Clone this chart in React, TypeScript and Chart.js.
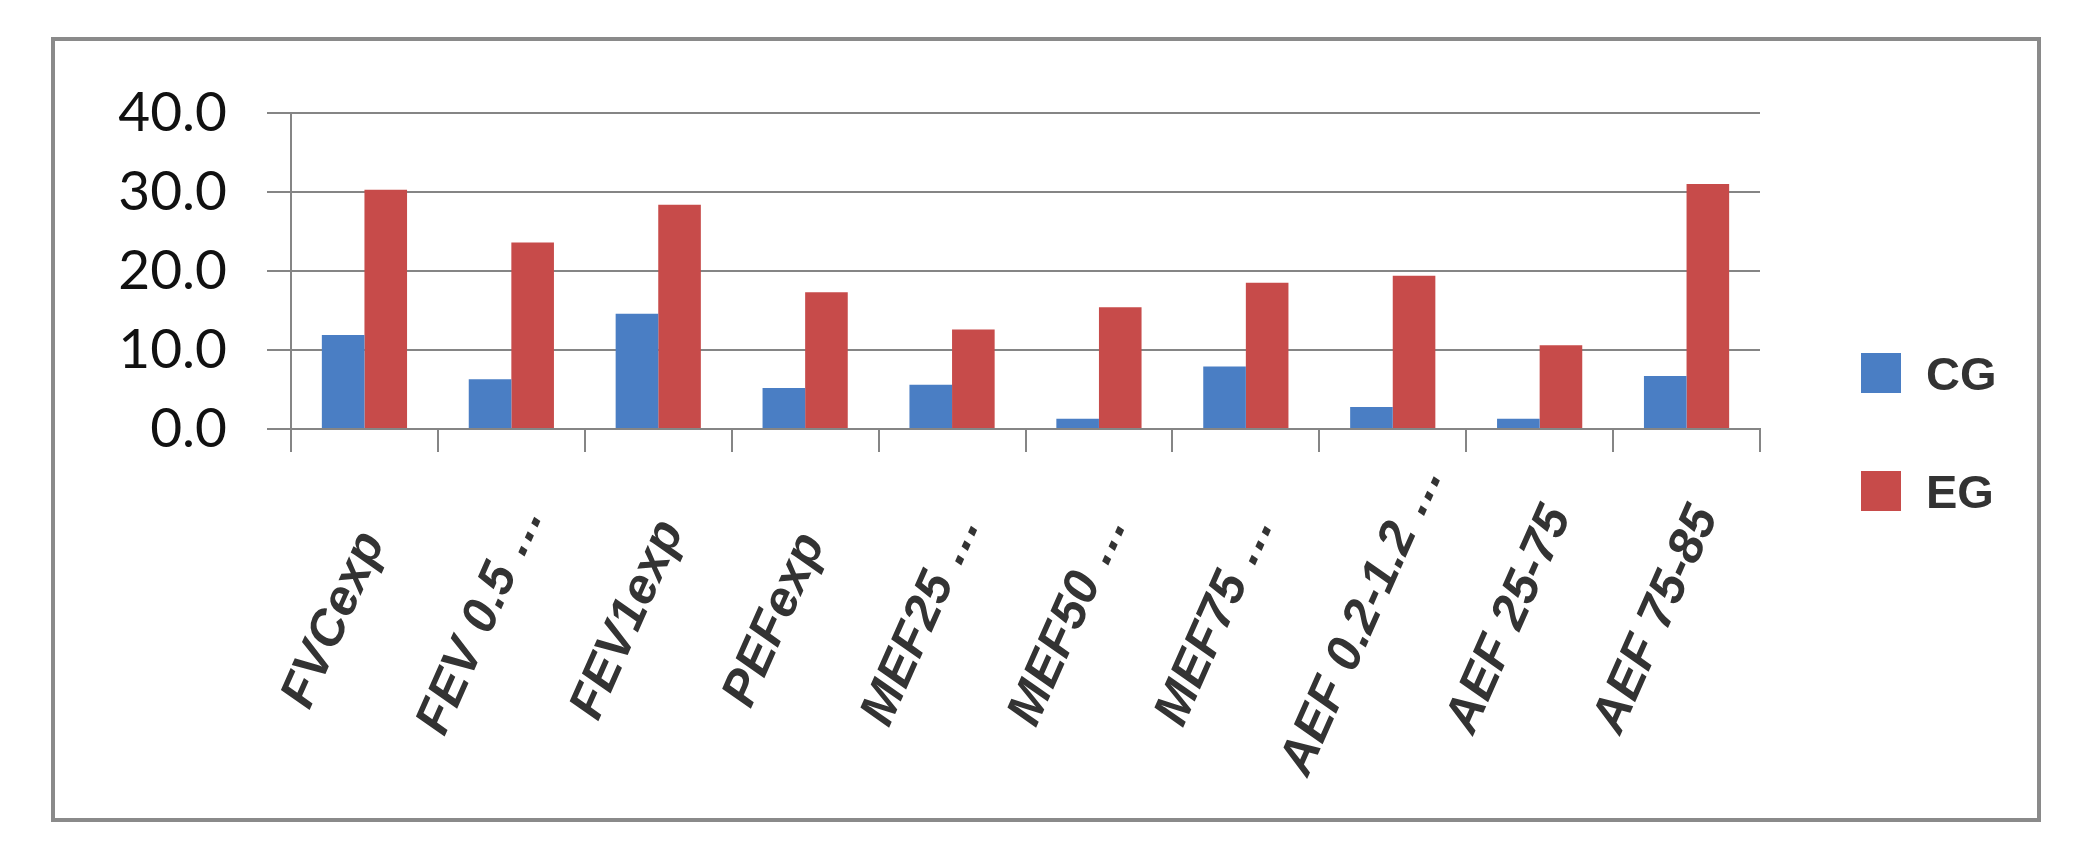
import React, { useEffect, useRef } from 'react';
import { Chart, registerables } from 'chart.js';

Chart.register(...registerables);

// ---- data ----
const CATEGORIES = [
  'FVCexp',
  'FEV 0.5 …',
  'FEV1exp',
  'PEFexp',
  'MEF25 …',
  'MEF50 …',
  'MEF75 …',
  'AEF 0.2-1.2 …',
  'AEF 25-75',
  'AEF 75-85',
];
const CG_VALUES = [11.9, 6.3, 14.6, 5.2, 5.6, 1.3, 7.9, 2.8, 1.3, 6.7];
const EG_VALUES = [30.3, 23.6, 28.4, 17.3, 12.6, 15.4, 18.5, 19.4, 10.6, 31.0];
const SERIES_NAMES = ['CG', 'EG'];
const SERIES_COLORS = ['#4A7EC4', '#C74B4A'];
const Y_MIN = 0;
const Y_MAX = 40;
const Y_STEP = 10;

// ---- layout / style ----
const W = 2084;
const H = 848;
const FRAME = { left: 51, top: 37, right: 2041, bottom: 822 };
const PLOT = { left: 291, top: 113, right: 1760, bottom: 429 };
const GRID = '#858585';
const LEGEND_CENTER_Y = 432;
const LEGEND_SPACING = 118;
const LEGEND_BOX_OFFSET = 101;
const LEGEND_BOX = 40;
const LABEL_FONT = '"Liberation Sans", Arial, sans-serif';
const XLABEL_ANGLE = 66;
const XLABEL_DX = -30;
const XLABEL_DY = 191;

const sideLegend = {
  id: 'sideLegend',
  afterDraw(chart: any) {
    const ctx = chart.ctx;
    const right = chart.chartArea.right;
    const n = chart.data.datasets.length;
    ctx.save();
    ctx.font = `bold 47px ${LABEL_FONT}`;
    ctx.textBaseline = 'alphabetic';
    ctx.textAlign = 'left';
    chart.data.datasets.forEach((ds: any, i: number) => {
      const cy = LEGEND_CENTER_Y + (i - (n - 1) / 2) * LEGEND_SPACING;
      const bx = right + LEGEND_BOX_OFFSET;
      ctx.fillStyle = ds.backgroundColor;
      ctx.fillRect(bx, cy - LEGEND_BOX / 2, LEGEND_BOX, LEGEND_BOX);
      ctx.fillStyle = '#333333';
      ctx.fillText(ds.label, bx + 65, cy + 17);
    });
    ctx.restore();
  },
};

// category labels, centred on a point below each category (as the source chart does)
const rotatedLabels = {
  id: 'rotatedLabels',
  afterDraw(chart: any) {
    const xs = chart.scales.x;
    const ctx = chart.ctx;
    ctx.save();
    ctx.font = `italic bold 50px ${LABEL_FONT}`;
    ctx.fillStyle = '#333333';
    ctx.textAlign = 'center';
    ctx.textBaseline = 'middle';
    (chart.data.labels as string[]).forEach((lab, i) => {
      const x = xs.getPixelForTick(i) + XLABEL_DX;
      ctx.save();
      ctx.translate(x, xs.top + XLABEL_DY);
      ctx.rotate((-XLABEL_ANGLE * Math.PI) / 180);
      ctx.fillText(lab, 0, 0);
      ctx.restore();
    });
    ctx.restore();
  },
};

export default function App() {
  const ref = useRef<HTMLCanvasElement | null>(null);

  useEffect(() => {
    if (!ref.current) return;
    const chart = new Chart(ref.current, {
      type: 'bar',
      data: {
        labels: CATEGORIES,
        datasets: [CG_VALUES, EG_VALUES].map((vals, i) => ({
          label: SERIES_NAMES[i],
          data: vals,
          backgroundColor: SERIES_COLORS[i],
          borderWidth: 0,
          categoryPercentage: 0.58,
          barPercentage: 1.0,
        })),
      },
      options: {
        animation: false,
        responsive: false,
        devicePixelRatio: 1,
        layout: {
          padding: { left: 0, top: PLOT.top, right: W - PLOT.right, bottom: 0 },
        },
        plugins: {
          legend: { display: false },
          tooltip: { enabled: false },
          title: { display: false },
        },
        scales: {
          x: {
            grid: {
              offset: true,
              drawOnChartArea: false,
              drawTicks: true,
              tickLength: 23,
              color: GRID,
              lineWidth: 2,
            },
            border: { display: true, color: GRID, width: 2 },
            ticks: { display: false, autoSkip: false },
            afterFit: (s: any) => {
              s.height = H - PLOT.bottom;
            },
          },
          y: {
            min: Y_MIN,
            max: Y_MAX,
            ticks: {
              stepSize: Y_STEP,
              padding: 40,
              color: '#111111',
              font: { family: 'Lato, "Open Sans", sans-serif', size: 55 },
              callback: (v: any) => Number(v).toFixed(1),
            },
            grid: { color: GRID, lineWidth: 2, tickLength: 24, drawTicks: true },
            border: { display: true, color: GRID, width: 2 },
            afterFit: (s: any) => {
              s.width = PLOT.left;
            },
          },
        },
      },
      plugins: [sideLegend, rotatedLabels],
    });
    return () => chart.destroy();
  }, []);

  return (
    <div style={{ position: 'absolute', left: 0, top: 0, width: W, height: H, background: '#ffffff', overflow: 'hidden' }}>
      <div
        style={{
          position: 'absolute',
          left: FRAME.left,
          top: FRAME.top,
          width: FRAME.right - FRAME.left,
          height: FRAME.bottom - FRAME.top,
          border: '4px solid #8a8a8a',
          boxSizing: 'border-box',
        }}
      />
      <canvas ref={ref} width={W} height={H} style={{ position: 'absolute', left: 0, top: 0 }} />
    </div>
  );
}
